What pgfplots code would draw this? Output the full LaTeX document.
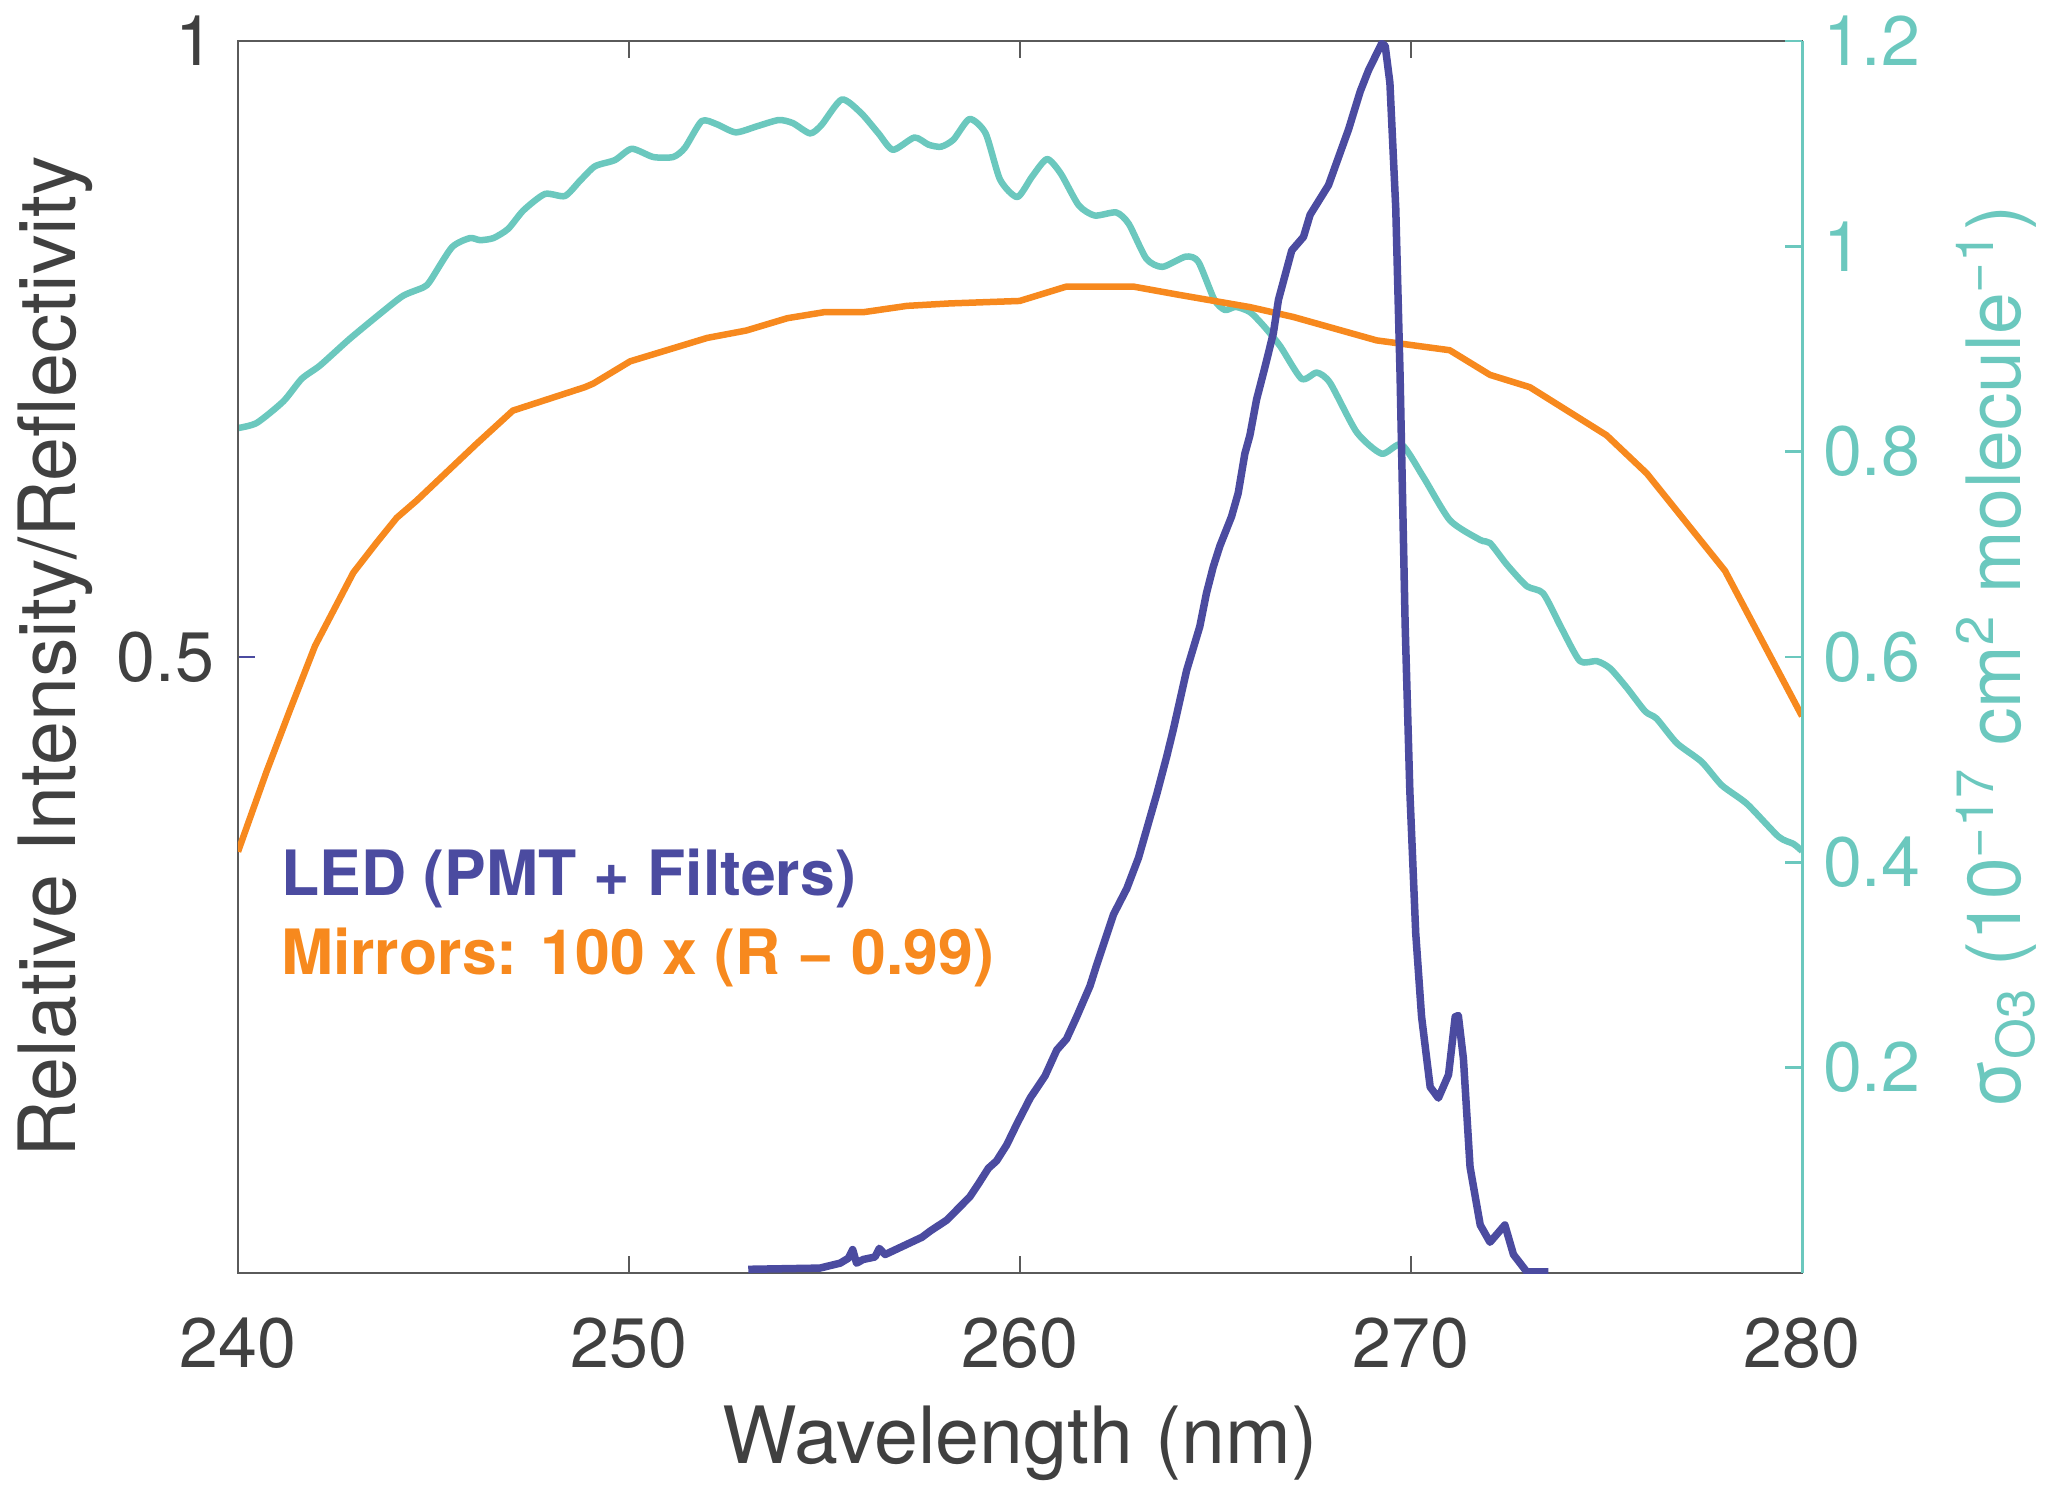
\documentclass[border=0pt]{standalone}
\usepackage{fontspec}
\setmainfont{TeX Gyre Heros}
\usepackage{pgfplots}
\pgfplotsset{compat=1.18}
\definecolor{ledblue}{RGB}{75,75,160}
\definecolor{mirrorc}{RGB}{247,137,30}
\definecolor{tealc}{RGB}{107,200,190}
\definecolor{textgray}{RGB}{64,64,64}
\definecolor{axisgray}{RGB}{90,90,90}
\begin{document}
\begin{tikzpicture}
\pgfplotsset{
  base/.style={scale only axis, width=312.8pt, height=246.4pt,
    xmin=240, xmax=280,
    /pgf/number format/assume math mode=true,
    tick align=inside, major tick length=3.5pt},
}
% ---- ozone cross section (right axis), drawn first
\begin{axis}[base, ymin=0, ymax=1.2, hide axis]
\addplot[color=tealc, line width=1.3pt, smooth, tension=0.4, line join=round] table {
240.00 0.823
240.48 0.828
241.16 0.849
241.63 0.871
242.10 0.884
242.86 0.910
243.72 0.937
244.23 0.952
244.74 0.960
244.91 0.966
245.47 0.999
245.93 1.008
246.19 1.006
246.53 1.008
246.91 1.017
247.30 1.035
247.85 1.051
248.36 1.049
248.75 1.064
249.13 1.078
249.64 1.084
250.07 1.095
250.62 1.087
251.13 1.087
251.43 1.096
251.86 1.122
252.24 1.119
252.73 1.111
253.28 1.117
253.83 1.123
254.19 1.120
254.63 1.110
254.92 1.118
255.44 1.143
255.93 1.130
256.38 1.110
256.75 1.094
257.30 1.106
257.66 1.099
257.98 1.097
258.30 1.104
258.71 1.124
259.12 1.110
259.49 1.065
259.93 1.048
260.31 1.068
260.69 1.085
261.04 1.071
261.50 1.040
261.91 1.030
262.46 1.033
262.78 1.022
263.23 0.988
263.64 0.980
264.24 0.990
264.56 0.985
264.97 0.948
265.24 0.938
265.52 0.941
265.88 0.936
266.22 0.923
266.65 0.903
267.20 0.871
267.59 0.877
267.93 0.867
268.61 0.819
269.25 0.798
269.76 0.807
270.32 0.775
271.00 0.733
271.77 0.714
272.02 0.711
272.45 0.690
272.96 0.669
273.38 0.662
273.85 0.628
274.32 0.596
274.75 0.596
275.09 0.589
275.52 0.570
275.99 0.547
276.28 0.540
276.80 0.516
277.43 0.498
277.95 0.475
278.59 0.457
279.40 0.425
279.78 0.418
280.00 0.411
};
\end{axis}
% ---- main (left) axis
\begin{axis}[base, ymin=0, ymax=1,
  xtick={240,250,260,270,280}, ytick={0.5,1},
  xtick pos=both, ytick pos=left,
  axis line style={draw=axisgray, line width=0.5pt},
  xtick style={draw=axisgray, line width=0.5pt},
  ytick style={draw=ledblue, line width=0.5pt},
  xticklabel style={anchor=north, inner sep=0pt, yshift=-8.8pt, font=\fontsize{14}{16}\selectfont, text=textgray},
  yticklabel style={anchor=east, inner sep=0pt, xshift=-4.6pt, font=\fontsize{14}{16}\selectfont, text=textgray},
  xlabel={Wavelength (nm)},
  xlabel style={at={(axis description cs:0.5,-0.155)}, anchor=base, inner sep=0pt, font=\fontsize{15.8}{18}\selectfont, text=textgray},
  ylabel={Relative Intensity/Reflectivity},
  ylabel style={at={(axis description cs:-0.104,0.5)}, anchor=base, inner sep=0pt, font=\fontsize{15.8}{18}\selectfont, text=textgray},
]
\addplot[color=mirrorc, line width=1.3pt, line join=round] table {
240.00 0.342
240.73 0.407
241.33 0.457
241.97 0.509
242.95 0.5685
243.55 0.593
244.06 0.613
244.57 0.627
246.10 0.673
247.03 0.700
248.87 0.719
249.09 0.722
250.03 0.740
252.00 0.759
253.00 0.765
254.05 0.775
255.01 0.780
256.02 0.780
257.11 0.785
258.21 0.787
259.99 0.789
261.18 0.8006
262.91 0.8006
264.06 0.794
265.88 0.784
266.99 0.776
269.12 0.757
270.99 0.749
272.02 0.729
273.04 0.719
275.00 0.680
276.03 0.649
278.03 0.570
280.00 0.452
};
\addplot[color=ledblue, line width=1.5pt, line join=round] table {
253.05 0.003
254.88 0.004
255.40 0.008
255.61 0.012
255.72 0.019
255.82 0.008
255.99 0.011
256.29 0.013
256.40 0.020
256.55 0.015
257.02 0.022
257.49 0.029
257.70 0.034
258.13 0.043
258.72 0.062
258.93 0.072
259.19 0.085
259.40 0.091
259.66 0.104
259.92 0.121
260.26 0.142
260.64 0.160
260.94 0.181
261.19 0.190
261.45 0.208
261.79 0.233
261.96 0.250
262.39 0.291
262.73 0.312
263.03 0.337
263.50 0.389
263.75 0.419
263.92 0.441
264.09 0.465
264.26 0.489
264.60 0.525
264.77 0.552
264.94 0.573
265.11 0.590
265.41 0.614
265.58 0.633
265.75 0.665
265.88 0.680
266.05 0.709
266.27 0.736
266.48 0.763
266.61 0.790
266.95 0.830
267.25 0.841
267.42 0.859
267.89 0.883
268.15 0.906
268.40 0.928
268.70 0.959
268.91 0.976
269.25 0.998
269.34 0.996
269.46 0.966
269.61 0.864
269.72 0.729
269.85 0.526
269.97 0.391
270.12 0.276
270.27 0.208
270.49 0.151
270.70 0.142
270.96 0.161
271.13 0.208
271.21 0.209
271.34 0.174
271.51 0.086
271.77 0.039
272.02 0.025
272.40 0.039
272.62 0.015
272.96 0.001
273.51 0.001
};
\node[anchor=base west, inner sep=0pt, text=ledblue, font=\fontsize{12.5}{14}\selectfont\bfseries] at (axis cs:241.08,0.3068) {LED (PMT + Filters)};
\node[anchor=base west, inner sep=0pt, text=mirrorc, font=\fontsize{12.5}{14}\selectfont\bfseries] at (axis cs:241.08,0.2427) {Mirrors: 100 x (R − 0.99)};
\end{axis}
% ---- right axis line, ticks and labels
\begin{axis}[base, ymin=0, ymax=1.2,
  axis x line=none, axis y line*=right,
  ytick={0.2,0.4,0.6,0.8,1,1.2},
  axis line style={-, draw=tealc, line width=0.6pt},
  ytick style={draw=tealc, line width=0.5pt},
  yticklabel style={anchor=west, inner sep=0pt, xshift=4pt, font=\fontsize{14}{16}\selectfont, text=tealc},
  ylabel={σ\textsubscript{O3} (10\textsuperscript{−17} cm\textsuperscript{2} molecule\textsuperscript{−1})},
  ylabel style={at={(axis description cs:1.1394,0.5)}, anchor=base, inner sep=0pt, font=\fontsize{15}{18}\selectfont, text=tealc},
]
\coordinate (sw) at (axis description cs:0,0);
\coordinate (ne) at (axis description cs:1,1);
\end{axis}
\pgfresetboundingbox
\path[use as bounding box] ([shift={(-47.6pt,-45.4pt)}]sw) rectangle ([shift={(53pt,8.2pt)}]ne);
\end{tikzpicture}
\end{document}
